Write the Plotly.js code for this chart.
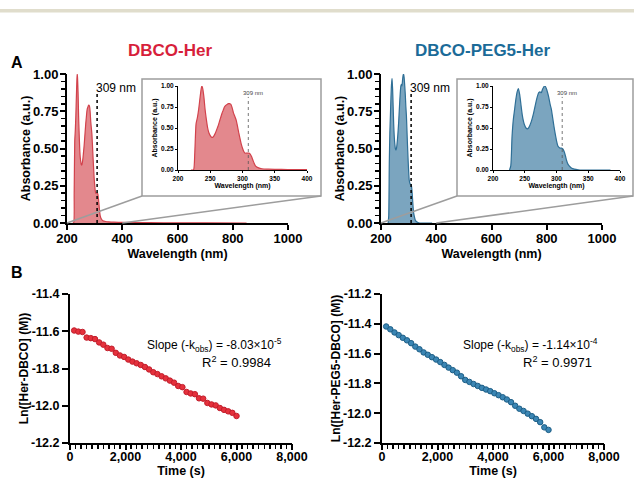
<!DOCTYPE html>
<html>
<head>
<meta charset="utf-8">
<script src="https://cdn.plot.ly/plotly-3.0.1.min.js"></script>
<style>
  html, body { margin: 0; padding: 0; background: #ffffff; }
  #chart { width: 634px; height: 480px; }
</style>
</head>
<body>
<div id="chart"></div>
<script>
// ---------- DATA ----------
const titleRed = 'DBCO-Her';
const titleBlue = 'DBCO-PEG5-Her';
const markerWavelength = 309;

// UV-Vis spectrum DBCO-Her (normalised absorbance)
const wlRed  = [220, 224, 226, 228, 230, 232, 234, 236, 237, 238, 240, 242, 244, 246, 248, 250, 252, 254, 256, 258, 260, 262, 264, 266, 268, 270, 272, 274, 276, 278, 280, 282, 284, 286, 288, 290, 292, 294, 296, 298, 300, 302, 304, 306, 308, 310, 312, 314, 316, 318, 320, 325, 330, 340, 350, 370, 400, 500, 600, 700, 850];
const absRed = [0, 0, 0.2, 0.55, 0.62, 0.72, 0.85, 0.97, 1.0, 0.98, 0.88, 0.72, 0.6, 0.5, 0.44, 0.41, 0.39, 0.39, 0.41, 0.44, 0.48, 0.52, 0.57, 0.62, 0.67, 0.71, 0.75, 0.77, 0.78, 0.79, 0.79, 0.78, 0.74, 0.68, 0.64, 0.6, 0.53, 0.45, 0.38, 0.31, 0.26, 0.22, 0.2, 0.2, 0.2, 0.2, 0.19, 0.16, 0.12, 0.08, 0.05, 0.025, 0.015, 0.01, 0.008, 0.006, 0.004, 0.002, 0.001, 0.001, 0];

// UV-Vis spectrum DBCO-PEG5-Her
const wlBlue  = [226, 228, 230, 232, 234, 236, 238, 240, 242, 244, 246, 248, 250, 252, 254, 256, 258, 260, 262, 264, 266, 268, 270, 272, 274, 276, 278, 280, 282, 284, 286, 288, 290, 292, 294, 296, 298, 300, 302, 304, 306, 308, 310, 312, 314, 316, 318, 320, 324, 328, 334, 340, 360, 385];
const absBlue = [0, 0.05, 0.4, 0.6, 0.72, 0.84, 0.93, 0.97, 0.9, 0.78, 0.66, 0.58, 0.53, 0.5, 0.49, 0.5, 0.53, 0.57, 0.62, 0.68, 0.75, 0.82, 0.88, 0.92, 0.93, 0.92, 0.96, 0.99, 1.0, 0.97, 0.92, 0.86, 0.78, 0.72, 0.62, 0.52, 0.43, 0.35, 0.29, 0.27, 0.26, 0.26, 0.25, 0.22, 0.17, 0.11, 0.07, 0.05, 0.02, 0.01, 0.003, 0, 0, 0];

// Kinetics: Ln([Her-DBCO] (M)) vs time (s)
const timeRed = [150, 300, 450, 600, 750, 900, 1050, 1200, 1350, 1500, 1650, 1800, 1950, 2100, 2250, 2400, 2550, 2700, 2850, 3000, 3150, 3300, 3450, 3600, 3750, 3900, 4050, 4200, 4350, 4500, 4650, 4800, 4950, 5100, 5250, 5400, 5550, 5700, 5850, 6000];
const lnRed = [-11.596, -11.602, -11.604, -11.634, -11.637, -11.642, -11.660, -11.672, -11.690, -11.694, -11.716, -11.730, -11.738, -11.752, -11.763, -11.772, -11.781, -11.792, -11.805, -11.820, -11.830, -11.842, -11.853, -11.865, -11.876, -11.894, -11.900, -11.926, -11.934, -11.938, -11.960, -11.962, -11.985, -11.993, -11.998, -12.012, -12.022, -12.030, -12.038, -12.055];

// Kinetics: Ln([Her-PEG5-DBCO] (M)) vs time (s)
const timeBlue = [150, 300, 450, 600, 750, 900, 1050, 1200, 1350, 1500, 1650, 1800, 1950, 2100, 2250, 2400, 2550, 2700, 2850, 3000, 3150, 3300, 3450, 3600, 3750, 3900, 4050, 4200, 4350, 4500, 4650, 4800, 4950, 5100, 5250, 5400, 5550, 5700, 5850, 6000];
const lnBlue = [-11.418, -11.437, -11.458, -11.476, -11.494, -11.511, -11.530, -11.553, -11.571, -11.592, -11.608, -11.624, -11.640, -11.657, -11.676, -11.694, -11.711, -11.728, -11.752, -11.777, -11.790, -11.804, -11.817, -11.830, -11.841, -11.852, -11.866, -11.879, -11.893, -11.908, -11.926, -11.950, -11.970, -11.985, -12.003, -12.020, -12.038, -12.060, -12.095, -12.112];

const slopeRedText = 'Slope (-k<sub>obs</sub>) = -8.03×10<sup>-5</sup>';
const r2RedText = 'R<sup>2</sup> = 0.9984';
const slopeBlueText = 'Slope (-k<sub>obs</sub>) = -1.14×10<sup>-4</sup>';
const r2BlueText = 'R<sup>2</sup> = 0.9971';

// Tick labels
const specXTicks = [200, 400, 600, 800, 1000];
const specYTicks = [0, 0.25, 0.5, 0.75, 1.0];
const specYLabels = ['0.00', '0.25', '0.50', '0.75', '1.00'];
const insetXTicks = [200, 250, 300, 350, 400];
const kinXTicks = [0, 2000, 4000, 6000, 8000];
const kinXLabels = ['0', '2,000', '4,000', '6,000', '8,000'];
const kinYTicksRed = [-12.2, -12.0, -11.8, -11.6, -11.4];
const kinYLabelsRed = ['-12.2', '-12.0', '-11.8', '-11.6', '-11.4'];
const kinYTicksBlue = [-12.2, -12.0, -11.8, -11.6, -11.4, -11.2];
const kinYLabelsBlue = ['-12.2', '-12.0', '-11.8', '-11.6', '-11.4', '-11.2'];
const specYMinorStep = 0.05;
const kinXMinorStep = 200;

// ---------- STYLE ----------
const RED_LINE = '#d2424c', RED_FILL = 'rgba(221,110,116,0.82)';
const BLUE_LINE = '#2f6f96', BLUE_FILL = 'rgba(94,145,177,0.82)';
const RED_TITLE = '#d71f3b', BLUE_TITLE = '#1b6b98';
const FONT = 'Liberation Sans, Arial, Helvetica, sans-serif';
const W = 634, H = 480;
const px = x => x / W;
const py = y => 1 - y / H;

// expand major ticks into a full tick comb (minor ticks carry empty labels)
function comb(majorVals, majorLabels, step, lo, hi) {
  const vals = [], text = [];
  const n = Math.round((hi - lo) / step);
  for (let i = 0; i <= n; i++) {
    const v = +(lo + i * step).toFixed(6);
    vals.push(v);
    const k = majorVals.findIndex(m => Math.abs(m - v) < step / 10);
    text.push(k >= 0 ? majorLabels[k] : '');
  }
  return {vals, text};
}
const specYComb = comb(specYTicks, specYLabels, specYMinorStep, 0, 1);
const kinXComb = comb(kinXTicks, kinXLabels, kinXMinorStep, 0, 8000);

function mainAxisX(dom, anchor) {
  return {
    domain: dom, anchor: anchor, range: [200, 1000], tickmode: 'array', tickvals: specXTicks, ticks: 'outside', ticklen: 5, tickwidth: 2,
    ticklabelstandoff: -3,
    showline: true, linewidth: 2, linecolor: '#000', tickcolor: '#000', showgrid: false, zeroline: false,
    tickfont: {family: FONT, size: 13, color: '#000', weight: 'bold'},
    title: {text: 'Wavelength (nm)', font: {family: FONT, size: 12.5, color: '#000', weight: 'bold'}, standoff: 5}
  };
}
function mainAxisY(dom, anchor) {
  return {
    domain: dom, anchor: anchor, range: [0, 1], tickmode: 'array', tickvals: specYComb.vals, ticktext: specYComb.text,
    ticks: 'outside', ticklen: 4, tickwidth: 1.5, tickcolor: '#000',
    showline: true, linewidth: 2, linecolor: '#000', showgrid: false, zeroline: false,
    tickfont: {family: FONT, size: 13, color: '#000', weight: 'bold'},
    title: {text: 'Absorbance (a.u.)', font: {family: FONT, size: 12.5, color: '#000', weight: 'bold'}, standoff: 0}
  };
}
// tick-only overlay axis (longer major ticks)
function majorOverlay(base, anchor, range, vals, len) {
  return {
    overlaying: base, anchor: anchor, range: range, tickmode: 'array', tickvals: vals,
    ticks: 'outside', ticklen: len, tickwidth: 2, tickcolor: '#000', showticklabels: false,
    showline: false, showgrid: false, zeroline: false
  };
}
function insetAxisX(dom, anchor) {
  return {
    domain: dom, anchor: anchor, range: [200, 400], tickmode: 'array', tickvals: insetXTicks, ticks: 'outside', ticklen: 2, tickwidth: 1,
    showline: true, linewidth: 1, linecolor: '#000', tickcolor: '#000', showgrid: false, zeroline: false,
    tickfont: {family: FONT, size: 6.5, color: '#000', weight: 'bold'},
    title: {text: 'Wavelength (nm)', font: {family: FONT, size: 7, color: '#000', weight: 'bold'}, standoff: 2}
  };
}
function insetAxisY(dom, anchor) {
  return {
    domain: dom, anchor: anchor, range: [0, 1], tickmode: 'array', tickvals: specYTicks, ticktext: specYLabels,
    ticks: 'outside', ticklen: 2, tickwidth: 1,
    showline: true, linewidth: 1, linecolor: '#000', tickcolor: '#000', showgrid: false, zeroline: false,
    tickfont: {family: FONT, size: 6.5, color: '#000', weight: 'bold'},
    title: {text: 'Absorbance (a.u.)', font: {family: FONT, size: 7, color: '#000', weight: 'bold'}, standoff: 2}
  };
}
function kinAxisX(dom, anchor) {
  return {
    domain: dom, anchor: anchor, range: [0, 8000], tickmode: 'array', tickvals: kinXComb.vals, ticktext: kinXComb.text,
    ticks: 'outside', ticklen: 4, tickwidth: 1.5, tickcolor: '#000',
    ticklabelstandoff: -3,
    showline: true, linewidth: 2, linecolor: '#000', showgrid: false, zeroline: false,
    tickfont: {family: FONT, size: 12.5, color: '#000', weight: 'bold'},
    title: {text: 'Time (s)', font: {family: FONT, size: 12.5, color: '#000', weight: 'bold'}, standoff: 3}
  };
}
function kinAxisY(dom, anchor, range, vals, labels, title) {
  return {
    domain: dom, anchor: anchor, range: range, tickmode: 'array', tickvals: vals, ticktext: labels,
    ticks: 'outside', ticklen: 6, tickwidth: 2, tickcolor: '#000',
    showline: true, linewidth: 2, linecolor: '#000', showgrid: false, zeroline: false,
    tickfont: {family: FONT, size: 12.5, color: '#000', weight: 'bold'},
    title: {text: title, font: {family: FONT, size: 12, color: '#000', weight: 'bold'}, standoff: 0}
  };
}

const topY = [py(223), py(74)];
const insetY = [py(170), py(86)];
const botY = [py(443), py(294)];
const domTL = [px(67), px(288)], domTR = [px(381), px(602)];
const domIL = [px(178), px(307)], domIR = [px(493), px(620)];
const domBL = [px(70), px(292)], domBR = [px(382), px(604)];

function spec(x, y, xa, ya, line, fill) {
  return {x: x, y: y, xaxis: xa, yaxis: ya, type: 'scatter', mode: 'lines', fill: 'tozeroy',
    fillcolor: fill, line: {color: line, width: 1.2, shape: 'spline', smoothing: 0.6}, hoverinfo: 'skip'};
}
function kin(x, y, xa, ya, color, edge) {
  return {x: x, y: y, xaxis: xa, yaxis: ya, type: 'scatter', mode: 'markers',
    marker: {size: 5.5, color: color, line: {color: edge, width: 1}}, hoverinfo: 'skip'};
}
// empty helper trace so a tick-only overlay axis is laid out
function holder(xa, ya) {
  return {x: [], y: [], xaxis: xa, yaxis: ya, type: 'scatter', mode: 'markers', hoverinfo: 'skip', showlegend: false};
}

const data = [
  spec(wlRed, absRed, 'x', 'y', RED_LINE, RED_FILL),
  spec(wlBlue, absBlue, 'x2', 'y2', BLUE_LINE, BLUE_FILL),
  spec(wlRed, absRed, 'x3', 'y3', RED_LINE, RED_FILL),
  spec(wlBlue, absBlue, 'x4', 'y4', BLUE_LINE, BLUE_FILL),
  kin(timeRed, lnRed, 'x5', 'y5', '#e5313c', '#c21d2b'),
  kin(timeBlue, lnBlue, 'x6', 'y6', '#3b86b4', '#1d5e86'),
  holder('x', 'y7'),
  holder('x2', 'y8'),
  holder('x7', 'y5'),
  holder('x8', 'y6')
];

// paper position of a data value on an x axis
function dataToPaper(v, range, dom) { return dom[0] + (v - range[0]) / (range[1] - range[0]) * (dom[1] - dom[0]); }

const boxL = {x0: px(142), x1: px(321), y0: py(196), y1: py(79)};
const boxR = {x0: px(457), x1: px(633), y0: py(196), y1: py(79)};
const zoomEnd = 400;
const GRAY = '#9d9d9d';

const shapes = [
  // top divider band
  {type: 'rect', xref: 'paper', yref: 'paper', x0: 0, x1: 1, y0: py(12.5), y1: py(9), fillcolor: '#e0ddcc', line: {width: 0}},
  // inset boxes
  {type: 'rect', xref: 'paper', yref: 'paper', x0: boxL.x0, x1: boxL.x1, y0: boxL.y0, y1: boxL.y1, line: {color: GRAY, width: 1.5}},
  {type: 'rect', xref: 'paper', yref: 'paper', x0: boxR.x0, x1: boxR.x1, y0: boxR.y0, y1: boxR.y1, line: {color: GRAY, width: 1.5}},
  // zoom connector lines
  {type: 'line', xref: 'paper', yref: 'paper', x0: dataToPaper(200, [200, 1000], domTL), y0: topY[0], x1: boxL.x0, y1: boxL.y0, line: {color: GRAY, width: 1.5}},
  {type: 'line', xref: 'paper', yref: 'paper', x0: dataToPaper(zoomEnd, [200, 1000], domTL), y0: topY[0], x1: boxL.x1, y1: boxL.y0, line: {color: GRAY, width: 1.5}},
  {type: 'line', xref: 'paper', yref: 'paper', x0: dataToPaper(200, [200, 1000], domTR), y0: topY[0], x1: boxR.x0, y1: boxR.y0, line: {color: GRAY, width: 1.5}},
  {type: 'line', xref: 'paper', yref: 'paper', x0: dataToPaper(zoomEnd, [200, 1000], domTR), y0: topY[0], x1: boxR.x1, y1: boxR.y0, line: {color: GRAY, width: 1.5}},
  // 309 nm markers
  {type: 'line', xref: 'x', yref: 'y', x0: markerWavelength, x1: markerWavelength, y0: 0, y1: 0.87, line: {color: '#000', width: 1.5, dash: 'dot'}},
  {type: 'line', xref: 'x2', yref: 'y2', x0: markerWavelength, x1: markerWavelength, y0: 0, y1: 0.87, line: {color: '#000', width: 1.5, dash: 'dot'}},
  {type: 'line', xref: 'x3', yref: 'y3', x0: markerWavelength, x1: markerWavelength, y0: 0, y1: 0.87, line: {color: '#555', width: 0.8, dash: 'dot'}},
  {type: 'line', xref: 'x4', yref: 'y4', x0: markerWavelength, x1: markerWavelength, y0: 0, y1: 0.87, line: {color: '#555', width: 0.8, dash: 'dot'}}
];

const annotations = [
  {xref: 'paper', yref: 'paper', x: px(170), y: py(51), text: titleRed, showarrow: false, xanchor: 'center', yanchor: 'middle',
    font: {family: FONT, size: 17, color: RED_TITLE, weight: 'bold'}},
  {xref: 'paper', yref: 'paper', x: px(482), y: py(51), text: titleBlue, showarrow: false, xanchor: 'center', yanchor: 'middle',
    font: {family: FONT, size: 17, color: BLUE_TITLE, weight: 'bold'}},
  {xref: 'paper', yref: 'paper', x: px(9), y: py(63), text: 'A', showarrow: false, xanchor: 'left', yanchor: 'middle',
    font: {family: FONT, size: 16, color: '#000', weight: 'bold'}},
  {xref: 'paper', yref: 'paper', x: px(9), y: py(272), text: 'B', showarrow: false, xanchor: 'left', yanchor: 'middle',
    font: {family: FONT, size: 16, color: '#000', weight: 'bold'}},
  {xref: 'x', yref: 'y', x: markerWavelength, y: 0.905, text: '309 nm', showarrow: false, xanchor: 'left', yanchor: 'middle', xshift: -3,
    font: {family: FONT, size: 12, color: '#000'}},
  {xref: 'x2', yref: 'y2', x: markerWavelength, y: 0.905, text: '309 nm', showarrow: false, xanchor: 'left', yanchor: 'middle', xshift: -3,
    font: {family: FONT, size: 12, color: '#000'}},
  {xref: 'x3', yref: 'y3', x: markerWavelength, y: 0.92, text: '309 nm', showarrow: false, xanchor: 'center', yanchor: 'middle', xshift: 5,
    font: {family: FONT, size: 6, color: '#444'}},
  {xref: 'x4', yref: 'y4', x: markerWavelength, y: 0.92, text: '309 nm', showarrow: false, xanchor: 'center', yanchor: 'middle', xshift: 5,
    font: {family: FONT, size: 6, color: '#444'}},
  {xref: 'paper', yref: 'paper', x: px(284), y: py(345), text: slopeRedText, showarrow: false, xanchor: 'right', yanchor: 'middle',
    font: {family: FONT, size: 12, color: '#000'}},
  {xref: 'paper', yref: 'paper', x: px(273), y: py(362), text: r2RedText, showarrow: false, xanchor: 'right', yanchor: 'middle',
    font: {family: FONT, size: 13, color: '#000'}},
  {xref: 'paper', yref: 'paper', x: px(600), y: py(345), text: slopeBlueText, showarrow: false, xanchor: 'right', yanchor: 'middle',
    font: {family: FONT, size: 12, color: '#000'}},
  {xref: 'paper', yref: 'paper', x: px(594), y: py(362), text: r2BlueText, showarrow: false, xanchor: 'right', yanchor: 'middle',
    font: {family: FONT, size: 13, color: '#000'}}
];

const layout = {
  width: W, height: H,
  margin: {l: 0, r: 0, t: 0, b: 0},
  paper_bgcolor: '#ffffff', plot_bgcolor: 'rgba(0,0,0,0)',
  showlegend: false,
  font: {family: FONT, color: '#000'},
  xaxis: mainAxisX(domTL, 'y'),
  yaxis: mainAxisY(topY, 'x'),
  xaxis2: mainAxisX(domTR, 'y2'),
  yaxis2: mainAxisY(topY, 'x2'),
  xaxis3: insetAxisX(domIL, 'y3'),
  yaxis3: insetAxisY(insetY, 'x3'),
  xaxis4: insetAxisX(domIR, 'y4'),
  yaxis4: insetAxisY(insetY, 'x4'),
  xaxis5: kinAxisX(domBL, 'y5'),
  yaxis5: kinAxisY(botY, 'x5', [-12.2, -11.4], kinYTicksRed, kinYLabelsRed, 'Ln([Her-DBCO] (M))'),
  xaxis6: kinAxisX(domBR, 'y6'),
  yaxis6: kinAxisY(botY, 'x6', [-12.2, -11.2], kinYTicksBlue, kinYLabelsBlue, 'Ln([Her-PEG5-DBCO] (M))'),
  // longer major ticks on overlay axes
  yaxis7: majorOverlay('y', 'x', [0, 1], specYTicks, 6),
  yaxis8: majorOverlay('y2', 'x2', [0, 1], specYTicks, 6),
  xaxis7: majorOverlay('x5', 'y5', [0, 8000], kinXTicks, 6),
  xaxis8: majorOverlay('x6', 'y6', [0, 8000], kinXTicks, 6),
  shapes: shapes,
  annotations: annotations
};

Plotly.newPlot('chart', data, layout, {staticPlot: true, displayModeBar: false});
</script>
</body>
</html>
